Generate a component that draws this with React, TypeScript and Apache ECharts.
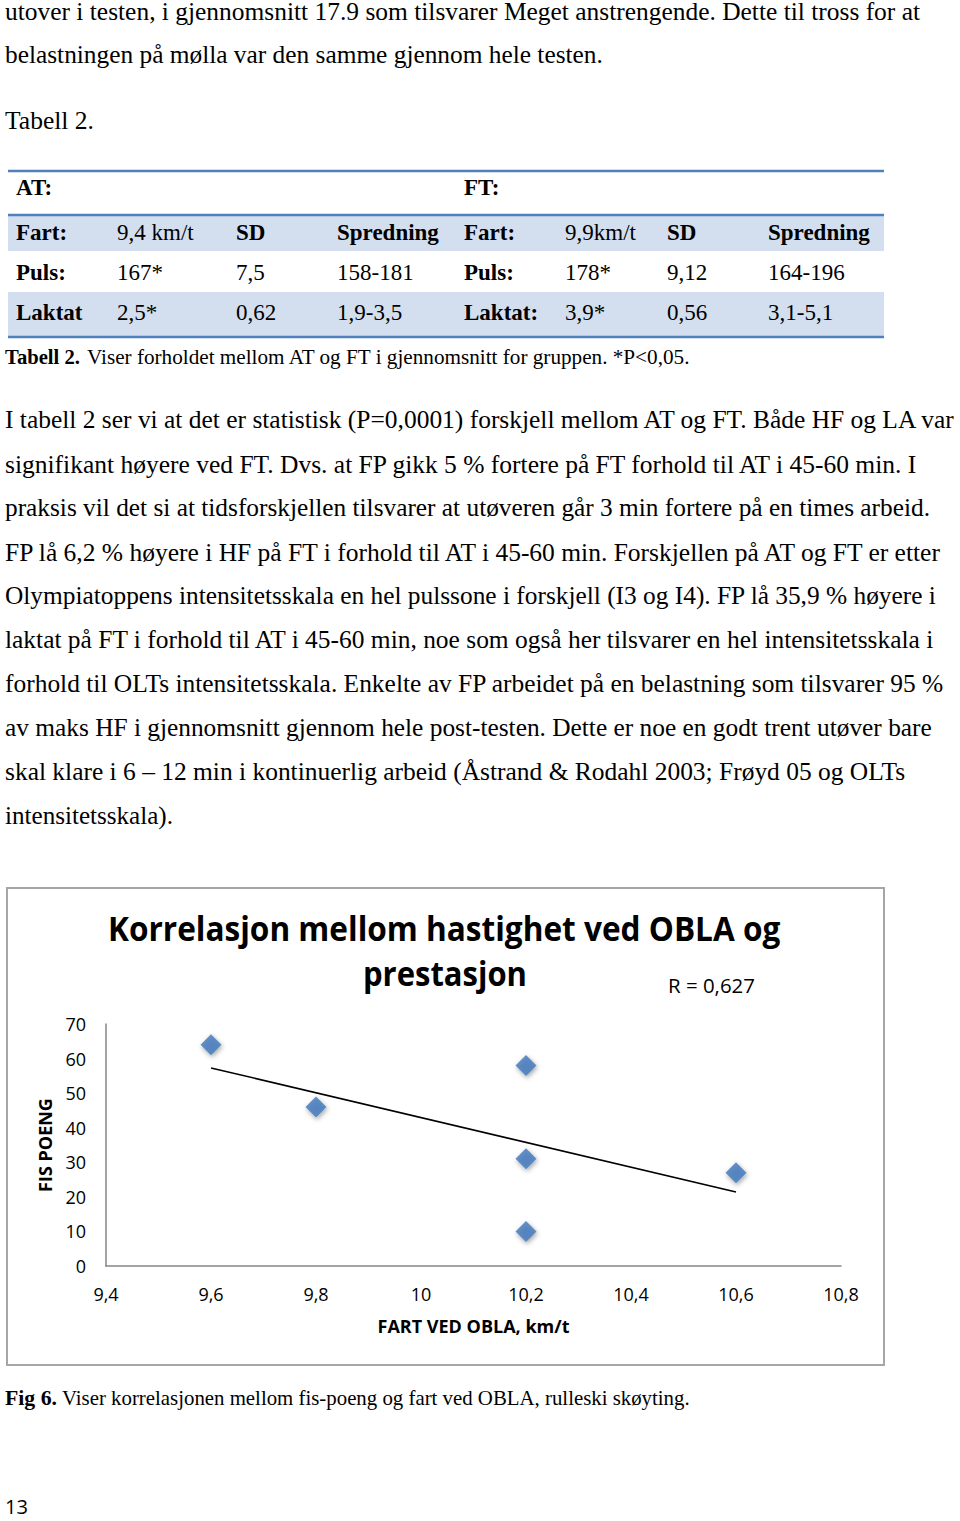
import React, { useEffect, useRef } from "react";
import * as echarts from "echarts";

// ---------- data ----------
const speedKmt = [9.6, 9.8, 10.2, 10.2, 10.2, 10.6];
const fisPoeng = [64, 46, 58, 31, 10, 27];
const trendSpeed = [9.6, 10.6];
const trendPoeng = [57.3, 21.4];
const chartTitle1 = "Korrelasjon mellom hastighet ved OBLA og";
const chartTitle2 = "prestasjon";
const rLabel = "R = 0,627";
const xAxisName = "FART VED OBLA, km/t";
const yAxisName = "FIS POENG";

const atHeader = "AT:";
const ftHeader = "FT:";
const atRows = [
  ["Fart:", "9,4 km/t", "SD", "Spredning"],
  ["Puls:", "167*", "7,5", "158-181"],
  ["Laktat", "2,5*", "0,62", "1,9-3,5"],
];
const ftRows = [
  ["Fart:", "9,9km/t", "SD", "Spredning"],
  ["Puls:", "178*", "9,12", "164-196"],
  ["Laktat:", "3,9*", "0,56", "3,1-5,1"],
];

const introLines = [
  "utover i testen, i gjennomsnitt 17.9 som tilsvarer Meget anstrengende. Dette til tross for at",
  "belastningen på mølla var den samme gjennom hele testen.",
  "Tabell 2.",
];
const paragraphLines = [
  "I tabell 2 ser vi at det er statistisk (P=0,0001) forskjell mellom AT og FT. Både HF og LA var",
  "signifikant høyere ved FT. Dvs. at FP gikk 5 % fortere på FT forhold til AT i 45-60 min. I",
  "praksis vil det si at tidsforskjellen tilsvarer at utøveren går 3 min fortere på en times arbeid.",
  "FP lå 6,2 % høyere i HF på FT i forhold til AT i 45-60 min. Forskjellen på AT og FT er etter",
  "Olympiatoppens intensitetsskala en hel pulssone i forskjell (I3 og I4). FP lå 35,9 % høyere i",
  "laktat på FT i forhold til AT i 45-60 min, noe som også her tilsvarer en hel intensitetsskala i",
  "forhold til OLTs intensitetsskala. Enkelte av FP arbeidet på en belastning som tilsvarer 95 %",
  "av maks HF i gjennomsnitt gjennom hele post-testen. Dette er noe en godt trent utøver bare",
  "skal klare i 6 – 12 min i kontinuerlig arbeid (Åstrand & Rodahl 2003; Frøyd 05 og OLTs",
  "intensitetsskala).",
];
const tableCaptionBold = "Tabell 2.";
const tableCaption = "Viser forholdet mellom AT og FT i gjennomsnitt for gruppen. *P<0,05.";
const figCaptionBold = "Fig 6.";
const figCaption = "Viser korrelasjonen mellom fis-poeng og fart ved OBLA, rulleski skøyting.";
const pageNumber = "13";

// ---------- layout ----------
const SERIF = '"Liberation Serif", "Times New Roman", serif';
const SANS = '"Open Sans", "Noto Sans", sans-serif';
const introRight = [920, 603, 94];
const introY = [12, 55, 120];
const paraRight = [958, 920, 931, 946, 937, 936, 944, 932, 906, 173];
const paraY0 = 420;
const paraStep = 43.9;
const atColX = [16, 117, 236, 337];
const ftColX = [464, 565, 667, 768];
const rowY = [232, 272, 312];

let measureCtx: CanvasRenderingContext2D | null = null;
function measure(text: string, size: number, family: string, weight: string) {
  if (!measureCtx) measureCtx = document.createElement("canvas").getContext("2d");
  measureCtx!.font = `${weight} ${size}px ${family}`;
  return measureCtx!.measureText(text).width;
}

function txt(
  text: string,
  x: number,
  y: number,
  size: number,
  family: string,
  weight = "normal",
  targetWidth?: number,
  align = "left"
) {
  let scaleX = 1;
  if (targetWidth) {
    const w = measure(text, size, family, weight);
    if (w > 0) scaleX = targetWidth / w;
  }
  return {
    type: "text",
    x,
    y,
    scaleX,
    silent: true,
    style: {
      text,
      fill: "#000",
      fontSize: size,
      fontFamily: family,
      fontWeight: weight,
      align,
      verticalAlign: "middle",
      textAlign: align,
      textVerticalAlign: "middle",
    },
  };
}

function fmtX(v: number) {
  const r = Math.round(v * 10) / 10;
  return Number.isInteger(r) ? String(r) : r.toFixed(1).replace(".", ",");
}

export default function App() {
  const ref = useRef<HTMLDivElement>(null);
  useEffect(() => {
    if (!ref.current) return;
    const chart = echarts.init(ref.current, null, { renderer: "svg" });

    const g: any[] = [];
    // intro text
    introLines.forEach((l, i) => g.push(txt(l, 5, introY[i], 25, SERIF, "normal", introRight[i] - 5)));

    // table
    const blue = "#4F81BD";
    const shade = "#D3DFEE";
    g.push({ type: "rect", shape: { x: 8, y: 216, width: 876, height: 35 }, style: { fill: shade }, silent: true });
    g.push({ type: "rect", shape: { x: 8, y: 292, width: 876, height: 44 }, style: { fill: shade }, silent: true });
    [171, 215, 337].forEach((yy) =>
      g.push({ type: "line", shape: { x1: 8, y1: yy, x2: 884, y2: yy }, style: { stroke: blue, lineWidth: 2.5 }, silent: true })
    );
    g.push(txt(atHeader, atColX[0], 187, 23, SERIF, "bold"));
    g.push(txt(ftHeader, ftColX[0], 187, 23, SERIF, "bold"));
    const drawRows = (rows: string[][], cols: number[]) =>
      rows.forEach((row, ri) =>
        row.forEach((cell, ci) => {
          const bold = ci === 0 || (ri === 0 && ci >= 2);
          g.push(txt(cell, cols[ci], rowY[ri], 23, SERIF, bold ? "bold" : "normal"));
        })
      );
    drawRows(atRows, atColX);
    drawRows(ftRows, ftColX);
    g.push(txt(tableCaptionBold, 5, 357, 20, SERIF, "bold", 75));
    g.push(txt(tableCaption, 87, 357, 20, SERIF, "normal", 605));

    // paragraph
    paragraphLines.forEach((l, i) =>
      g.push(txt(l, 5, paraY0 + i * paraStep, 25, SERIF, "normal", paraRight[i] - 5))
    );

    // chart frame
    g.push({ type: "rect", shape: { x: 7, y: 888, width: 877, height: 477 }, style: { fill: "#fff", stroke: "#A6A6A6", lineWidth: 2 }, silent: true, z: -10 });
    g.push(txt(chartTitle1, 108, 928, 34, SANS, "bold", 673));
    g.push(txt(chartTitle2, 363, 973, 34, SANS, "bold", 164));
    g.push(txt(rLabel, 668, 985, 20, SANS, "normal", 87));

    // captions
    g.push(txt(figCaptionBold, 5, 1398, 21, SERIF, "bold", 52));
    g.push(txt(figCaption, 62, 1398, 21, SERIF, "normal", 628));
    g.push(txt(pageNumber, 5, 1507, 20, SANS, "normal", 23));

    chart.setOption({
      animation: false,
      backgroundColor: "#fff",
      grid: { left: 106, right: 119, top: 1024, bottom: 255, containLabel: false },
      xAxis: {
        type: "value",
        min: 9.4,
        max: 10.8,
        interval: 0.2,
        name: xAxisName,
        nameLocation: "middle",
        nameGap: 51,
        nameTextStyle: { fontFamily: SANS, fontWeight: "bold", fontSize: 18, color: "#000" },
        axisLine: { show: true, onZero: false, lineStyle: { color: "#868686", width: 1.5 } },
        axisTick: { show: false },
        splitLine: { show: false },
        axisLabel: { formatter: fmtX, fontFamily: SANS, fontSize: 18, color: "#000", margin: 19 },
      },
      yAxis: {
        type: "value",
        min: 0,
        max: 70,
        interval: 10,
        name: yAxisName,
        nameLocation: "middle",
        nameRotate: 90,
        nameGap: 52,
        nameTextStyle: { fontFamily: SANS, fontWeight: "bold", fontSize: 18, color: "#000" },
        axisLine: { show: true, lineStyle: { color: "#868686", width: 1.5 } },
        axisTick: { show: false },
        splitLine: { show: false },
        axisLabel: { fontFamily: SANS, fontSize: 18, color: "#000", margin: 20 },
      },
      series: [
        {
          type: "line",
          data: trendSpeed.map((x, i) => [x, trendPoeng[i]]),
          symbol: "none",
          lineStyle: { color: "#000", width: 1.6 },
          silent: true,
          z: 2,
        },
        {
          type: "scatter",
          data: speedKmt.map((x, i) => [x, fisPoeng[i]]),
          symbol: "diamond",
          symbolSize: 21,
          itemStyle: {
            color: "#3F77BC",
            shadowBlur: 5,
            shadowColor: "rgba(0,0,0,0.45)",
            shadowOffsetX: 1,
            shadowOffsetY: 2,
          },
          z: 3,
        },
      ],
      graphic: { elements: g },
    });
    return () => chart.dispose();
  }, []);
  return (
    <div
      ref={ref}
      style={{ position: "absolute", left: 0, top: 0, width: 960, height: 1521, background: "#fff" }}
    />
  );
}
